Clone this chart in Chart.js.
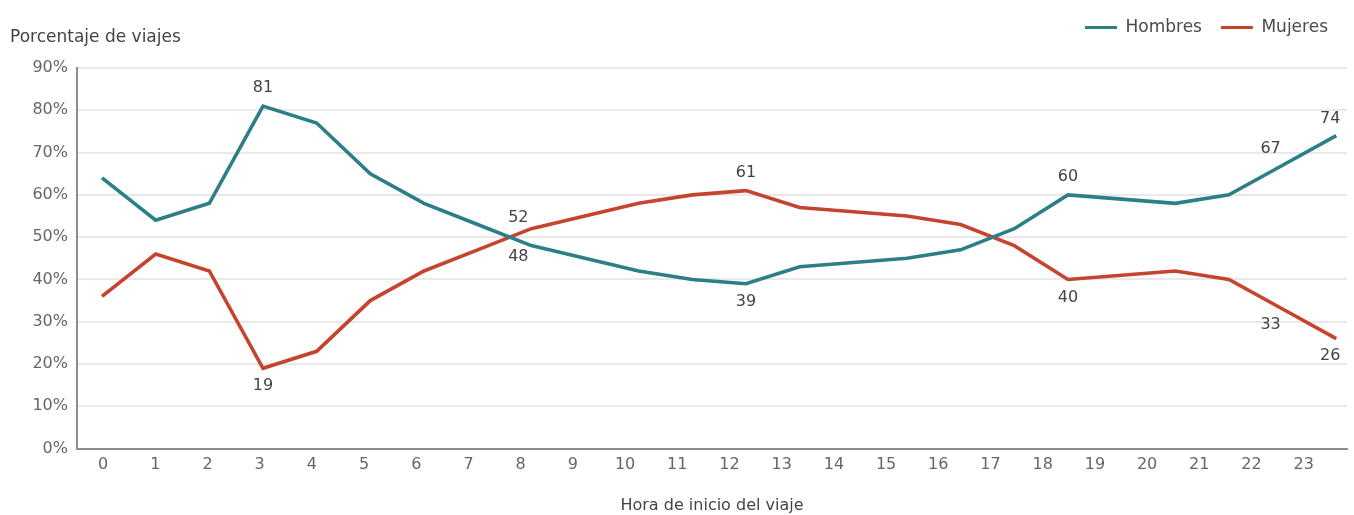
<!DOCTYPE html>
<html lang="es">
<head>
<meta charset="utf-8">
<script src="https://cdn.jsdelivr.net/npm/chart.js@4.4.1/dist/chart.umd.min.js"></script>
<style>
  html, body { margin: 0; padding: 0; background: #fff; }
  #wrap { width: 1354px; height: 515px; position: relative; }
</style>
</head>
<body>
<div id="wrap"><canvas id="viajes"></canvas></div>
<script>
// Hora de inicio del viaje
const horas = [0, 1, 2, 3, 4, 5, 6, 7, 8, 9, 10, 11, 12, 13, 14, 15, 16, 17, 18, 19, 20, 21, 22, 23];
// Porcentaje de viajes por sexo
const hombres = [64, 54, 58, 81, 77, 65, 58, 53, 48, 45, 42, 40, 39, 43, 44, 45, 47, 52, 60, 59, 58, 60, 67, 74];
const mujeres = [36, 46, 42, 19, 23, 35, 42, 47, 52, 55, 58, 60, 61, 57, 56, 55, 53, 48, 40, 41, 42, 40, 33, 26];
// horas con el valor escrito junto a la línea
const horasEtiquetadas = [3, 8, 12, 18, 22, 23];
const yMax = 90;

const FONT = '"DejaVu Sans", sans-serif';
const TEXT = '#4a4a4a';
const VERDE = '#2c7f84';
const ROJO = '#c5442e';

// value labels: the higher series gets its number above, the lower one below
const valueLabels = {
  id: 'valueLabels',
  afterDatasetsDraw(chart, args, opts) {
    const { ctx } = chart;
    const sets = chart.data.datasets;
    ctx.save();
    ctx.font = '16px ' + FONT;
    ctx.fillStyle = '#444';
    ctx.textAlign = 'center';
    ctx.textBaseline = 'middle';
    sets.forEach((ds, di) => {
      const meta = chart.getDatasetMeta(di);
      const other = sets[1 - di];
      opts.indices.forEach(i => {
        const pt = meta.data[i];
        const v = ds.data[i].y;
        const above = v >= other.data[i].y;
        const o = opts.offsets[i] || {};
        const dx = o.dx || 0;
        const dy = o.dy || opts.dy;
        ctx.fillText(String(v), pt.x + dx, pt.y + (above ? -dy : dy));
      });
    });
    ctx.restore();
  }
};

// horizontal y-axis caption above the tick labels
const yCaption = {
  id: 'yCaption',
  afterDraw(chart, args, opts) {
    const { ctx } = chart;
    ctx.save();
    ctx.font = '17px ' + FONT;
    ctx.fillStyle = '#444';
    ctx.textAlign = 'left';
    ctx.textBaseline = 'middle';
    ctx.fillText(opts.text, opts.x, opts.y);
    ctx.restore();
  }
};

// fixed legend band height so the plot starts below the caption
const legendBand = {
  id: 'legendBand',
  beforeInit(chart) {
    const fit = chart.legend.fit;
    chart.legend.fit = function () {
      fit.call(this);
      this.height = 68;
    };
  }
};

new Chart(document.getElementById('viajes'), {
  type: 'line',
  data: {
    datasets: [
      {
        label: 'Hombres',
        data: horas.map((h, i) => ({ x: h, y: hombres[i] })),
        borderColor: VERDE,
        backgroundColor: VERDE,
        borderWidth: 3.6,
        pointRadius: 0,
        tension: 0,
        xAxisID: 'x'
      },
      {
        label: 'Mujeres',
        data: horas.map((h, i) => ({ x: h, y: mujeres[i] })),
        borderColor: ROJO,
        backgroundColor: ROJO,
        borderWidth: 3.6,
        pointRadius: 0,
        tension: 0,
        xAxisID: 'x'
      }
    ]
  },
  options: {
    responsive: true,
    maintainAspectRatio: false,
    animation: false,
    layout: { padding: { top: 0, right: 7, bottom: 0, left: 0 } },
    scales: {
      // positions of the points
      x: {
        type: 'linear',
        display: false,
        min: -0.466,
        max: 23.2
      },
      // hour labels under the plot
      xt: {
        type: 'linear',
        axis: 'x',
        position: 'bottom',
        min: -0.5,
        max: 23.83,
        grid: { display: false, drawTicks: false },
        border: { display: true, color: '#8c8c8c', width: 2 },
        ticks: {
          stepSize: 1,
          includeBounds: false,
          autoSkip: false,
          maxRotation: 0,
          padding: 7,
          color: '#666',
          font: { family: FONT, size: 16 }
        },
        title: {
          display: true,
          text: 'Hora de inicio del viaje',
          color: '#444',
          font: { family: FONT, size: 16 },
          padding: { top: 14, bottom: 0 }
        }
      },
      y: {
        min: 0,
        max: yMax,
        afterFit(s) { s.width = 77; },
        grid: { color: '#e9e9e9', lineWidth: 2, drawTicks: false },
        border: { display: true, color: '#8c8c8c', width: 2 },
        ticks: {
          stepSize: 10,
          padding: 9,
          color: '#666',
          font: { family: FONT, size: 16 },
          callback: v => v + '%'
        }
      }
    },
    plugins: {
      legend: {
        position: 'top',
        align: 'end',
        labels: {
          boxWidth: 32,
          boxHeight: 3,
          padding: 19,
          color: TEXT,
          font: { family: FONT, size: 17 },
          generateLabels(chart) {
            return chart.data.datasets.map((ds, i) => ({
              text: ds.label,
              fillStyle: ds.borderColor,
              strokeStyle: ds.borderColor,
              lineWidth: 0,
              fontColor: TEXT,
              hidden: false,
              datasetIndex: i
            }));
          }
        }
      },
      tooltip: { enabled: false },
      valueLabels: {
        indices: horasEtiquetadas,
        dy: 18,
        offsets: { 8: { dx: -13, dy: 11 }, 22: { dx: -12, dy: 16 }, 23: { dx: -6, dy: 17 } }
      },
      yCaption: { text: 'Porcentaje de viajes', x: 10, y: 38 }
    }
  },
  plugins: [legendBand, valueLabels, yCaption]
});
</script>
</body>
</html>
